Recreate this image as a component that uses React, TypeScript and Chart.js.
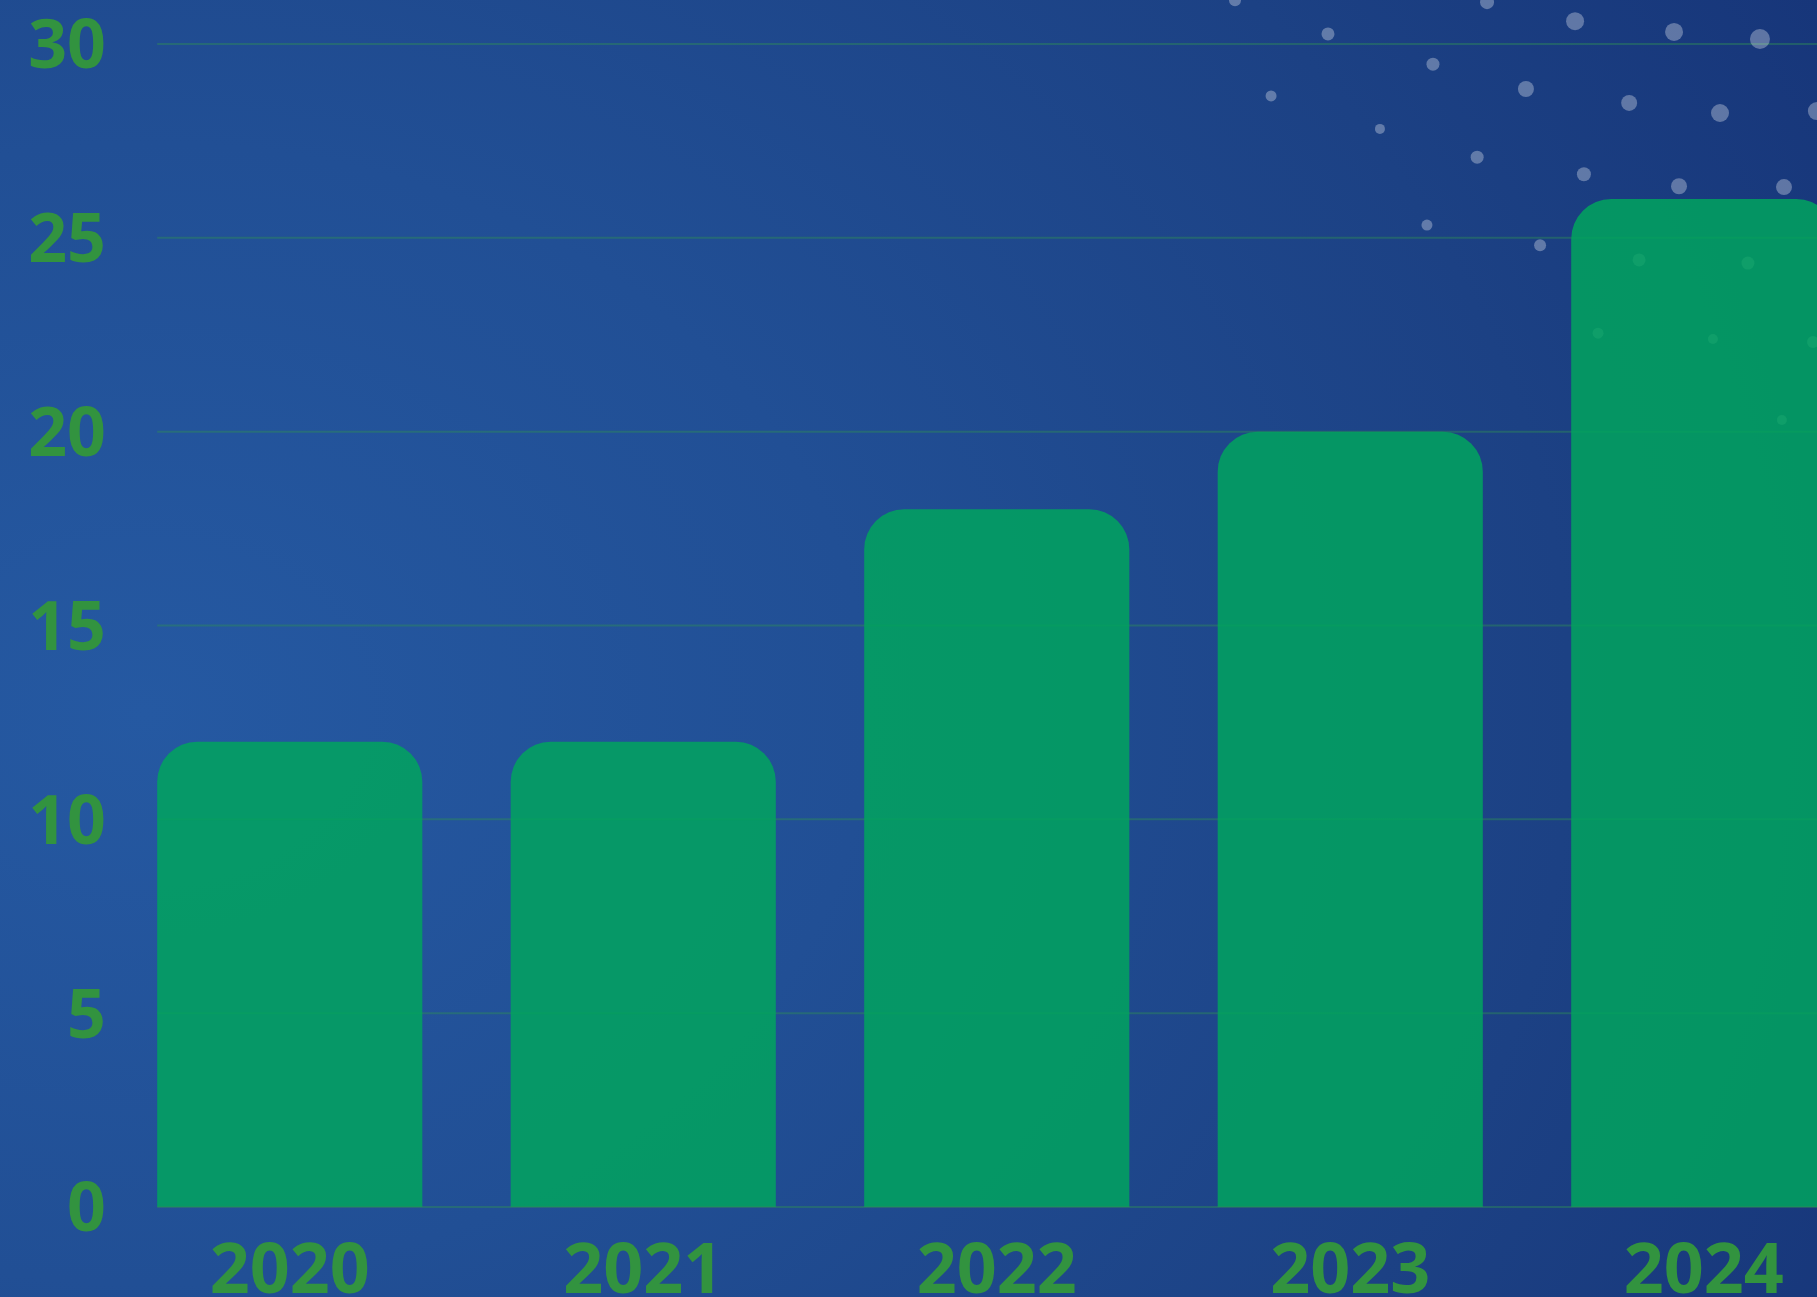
import React, { useEffect, useRef } from "react";
import { Chart, registerables } from "chart.js";

Chart.register(...registerables);

// ---- data ----
const categories = ["2020", "2021", "2022", "2023", "2024"];
const values = [12, 12, 18, 20, 26];
const yTicks = [0, 5, 10, 15, 20, 25, 30];

// decorative particles (x in category-index units, y in value units, r in px)
const particleX = [2.674, 3.387, 3.636, 3.916, 4.159, 2.937, 3.234, 2.776, 3.497, 3.789, 4.046, 4.32, 3.084, 3.359, 3.661, 3.93, 4.227, 3.217, 3.537, 3.817, 4.125, 3.701, 4.026, 4.309, 4.221];
const particleY = [31.13, 31.08, 30.59, 30.31, 30.13, 30.26, 29.48, 28.66, 28.84, 28.48, 28.22, 28.27, 27.81, 27.08, 26.64, 26.33, 26.31, 25.33, 24.81, 24.43, 24.35, 22.54, 22.39, 22.31, 20.3];
const particleR = [6, 7, 9, 9, 10, 6.5, 6.5, 5.5, 8, 8, 9, 9, 5, 6.5, 7, 8, 8, 5.5, 6, 6.5, 6.5, 5.5, 5, 6, 5];

const LABEL_COLOR = "#32933f";
const GRID_COLOR = "rgba(46,139,87,0.45)";
const BAR_COLOR = "rgba(1,165,94,0.85)";
const PARTICLE_COLOR = "rgba(255,255,255,0.31)";
const FONT = "'Open Sans', 'Noto Sans', sans-serif";

const gridPlugin = {
  id: "customGrid",
  beforeDatasetsDraw(chart: any) {
    const { ctx, chartArea, scales } = chart;
    const bar = chart.getDatasetMeta(0).data[0] as any;
    if (!bar) return;
    const x0 = bar.x - bar.width / 2;
    ctx.save();
    ctx.strokeStyle = GRID_COLOR;
    ctx.lineWidth = 2;
    yTicks.forEach((v) => {
      if (v === 0) return;
      const y = scales.y.getPixelForValue(v);
      ctx.beginPath();
      ctx.moveTo(x0, y);
      ctx.lineTo(chartArea.right, y);
      ctx.stroke();
    });
    // particles: positions computed by the scatter dataset's elements
    const pts = chart.getDatasetMeta(1).data as any[];
    ctx.fillStyle = PARTICLE_COLOR;
    pts.forEach((p, i) => {
      ctx.beginPath();
      ctx.arc(p.x, p.y, particleR[i], 0, Math.PI * 2);
      ctx.fill();
    });
    ctx.restore();
  },
  afterDatasetsDraw(chart: any) {
    const { ctx, chartArea, scales } = chart;
    const bar = chart.getDatasetMeta(0).data[0] as any;
    if (!bar) return;
    const x0 = bar.x - bar.width / 2;
    const y = scales.y.getPixelForValue(0);
    ctx.save();
    ctx.strokeStyle = GRID_COLOR;
    ctx.lineWidth = 2;
    ctx.beginPath();
    ctx.moveTo(x0, y);
    ctx.lineTo(chartArea.right, y);
    ctx.stroke();
    ctx.restore();
  },
};

export default function App() {
  const ref = useRef<HTMLCanvasElement | null>(null);

  useEffect(() => {
    if (!ref.current) return;
    const chart = new Chart(ref.current, {
      type: "bar",
      data: {
        labels: categories,
        datasets: [
          {
            type: "bar",
            data: values,
            backgroundColor: BAR_COLOR,
            borderRadius: 40,
            borderSkipped: "start",
            barPercentage: 0.75,
            categoryPercentage: 1,
            grouped: false,
            xAxisID: "x",
            yAxisID: "y",
            order: 0,
          } as any,
          {
            type: "scatter",
            data: particleX.map((x, i) => ({ x, y: particleY[i] })),
            backgroundColor: PARTICLE_COLOR,
            borderWidth: 0,
            pointRadius: 0,
            pointHoverRadius: 0,
            xAxisID: "xp",
            yAxisID: "y",
            clip: false,
            order: 1,
          } as any,
        ],
      },
      options: {
        animation: false,
        responsive: true,
        maintainAspectRatio: false,
        layout: { padding: { top: 44, right: 19.5, left: 0, bottom: 0 } },
        plugins: { legend: { display: false }, tooltip: { enabled: false } },
        scales: {
          x: {
            type: "category",
            offset: true,
            grid: { display: false, drawTicks: false },
            border: { display: false },
            ticks: {
              color: LABEL_COLOR,
              font: { family: FONT, size: 70, weight: "bold", lineHeight: 1.2 },
              padding: 24,
              maxRotation: 0,
              autoSkip: false,
            },
            afterFit: (s: any) => {
              s.height = 113;
            },
          },
          xp: {
            type: "linear",
            display: false,
            offset: false,
            min: -0.5,
            max: 4.5,
          },
          y: {
            type: "linear",
            min: 0,
            max: 30,
            grid: { display: false, drawTicks: false },
            border: { display: false },
            ticks: {
              stepSize: 5,
              color: LABEL_COLOR,
              font: { family: FONT, size: 68, weight: "bold", lineHeight: 1 },
              padding: 7,
              labelOffset: 5,
            },
            afterFit: (s: any) => {
              s.width = 113;
            },
          },
        },
      } as any,
      plugins: [gridPlugin],
    });
    return () => chart.destroy();
  }, []);

  return (
    <div
      style={{
        position: "fixed",
        left: 0,
        top: 0,
        width: "100vw",
        height: "100vh",
        overflow: "hidden",
        background:
          "radial-gradient(ellipse 1900px 1500px at 8% 55%, #2559a2 0%, #214f95 38%, #1c4184 75%, #17367a 100%)",
      }}
    >
      <div style={{ position: "absolute", left: 0, top: 0, width: 1900, height: 1320 }}>
        <canvas ref={ref} />
      </div>
    </div>
  );
}
